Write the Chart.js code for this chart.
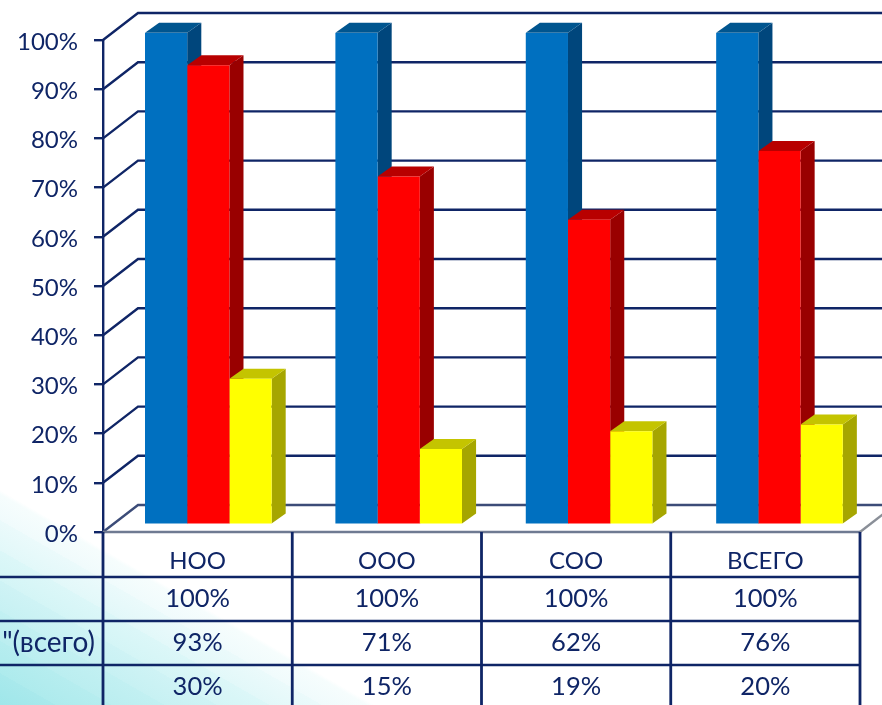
<!DOCTYPE html>
<html>
<head>
<meta charset="utf-8">
<title>Chart</title>
<script src="https://cdn.jsdelivr.net/npm/chart.js@4/dist/chart.umd.min.js"></script>
<style>
  html, body { margin: 0; padding: 0; width: 882px; height: 705px; overflow: hidden; background: #fff; }
  #bg { position: absolute; left: 0; top: 0; width: 882px; height: 705px; }
  #wrap { position: absolute; left: 0; top: 0; width: 882px; height: 705px; }
</style>
</head>
<body>
<svg id="bg" viewBox="0 0 882 705">
  <defs>
    <linearGradient id="fade" gradientUnits="userSpaceOnUse" x1="0" y1="490" x2="-93" y2="652">
      <stop offset="0" stop-color="#ffffff"/>
      <stop offset="0.02" stop-color="#f6fdfd"/>
      <stop offset="0.14" stop-color="#f0fbfc"/>
      <stop offset="0.14" stop-color="#ebfafb"/>
      <stop offset="0.28" stop-color="#e2f8f9"/>
      <stop offset="0.28" stop-color="#dcf7f8"/>
      <stop offset="0.42" stop-color="#d4f5f6"/>
      <stop offset="0.42" stop-color="#cff3f5"/>
      <stop offset="0.56" stop-color="#c7f1f3"/>
      <stop offset="0.56" stop-color="#c2f0f2"/>
      <stop offset="0.70" stop-color="#bbeef0"/>
      <stop offset="0.70" stop-color="#b6edef"/>
      <stop offset="0.85" stop-color="#aeebed"/>
      <stop offset="0.85" stop-color="#a9e9ec"/>
      <stop offset="1" stop-color="#9fe7ea"/>
    </linearGradient>
  </defs>
  <polygon points="0,490 375,705 0,705" fill="url(#fade)"/>
</svg>
<div id="wrap"><canvas id="chart" width="882" height="705"></canvas></div>
<script>
const categories = ['НОО', 'ООО', 'СОО', 'ВСЕГО'];
const seriesBlue = [100, 100, 100, 100];
const seriesRed = [93.4, 70.8, 62, 76];
const seriesYellow = [29.7, 15.4, 19, 20.4];
const tableBlue = ['100%', '100%', '100%', '100%'];
const tableRed = ['93%', '71%', '62%', '76%'];
const tableYellow = ['30%', '15%', '19%', '20%'];
const rowLabels = ['', '"(всего)', ''];
const yTicks = [0, 10, 20, 30, 40, 50, 60, 70, 80, 90, 100];

const navy = '#0f2566';
const fontName = 'Lato, "Open Sans", sans-serif';
const depthWallX = 35, depthWallY = -27;   // back wall offset
const barScaleX = 1.006, barShiftX = 9.5, barShiftY = -7.2;  // bars stand inside the floor
const barDepthX = 14, barDepthY = -10;
const rowY = [532, 577, 621, 665, 709];

const sideColors = ['#00467c', '#990000', '#a6a600'];
const topColors = ['#00558f', '#b80000', '#c4c400'];

function poly(ctx, pts, fill) {
    ctx.beginPath();
    pts.forEach((p, i) => i ? ctx.lineTo(p[0], p[1]) : ctx.moveTo(p[0], p[1]));
    ctx.closePath();
    ctx.fillStyle = fill;
    ctx.fill();
}

// back wall lines and the floor
const wallPlugin = {
    id: 'wall',
    beforeDatasetsDraw(chart) {
        const { ctx, chartArea: a, scales: { y } } = chart;
        ctx.save();
        ctx.lineWidth = 2.4;
        yTicks.forEach(v => {
            const py = y.getPixelForValue(v);
            ctx.strokeStyle = v === 0 ? '#3c4c78' : navy;
            ctx.beginPath();
            ctx.moveTo(a.left, py);
            ctx.lineTo(a.left + depthWallX, py + depthWallY);
            ctx.lineTo(a.right + depthWallX, py + depthWallY);
            ctx.stroke();
        });
        // floor edge on the right
        ctx.strokeStyle = '#8a8f98';
        ctx.beginPath();
        ctx.moveTo(a.right, a.bottom);
        ctx.lineTo(a.right + depthWallX, a.bottom + depthWallY);
        ctx.stroke();
        ctx.restore();
    }
};

// bar sides and tops, the library then paints the fronts over them
const bar3dPlugin = {
    id: 'bar3d',
    beforeDatasetsDraw(chart) {
        const ctx = chart.ctx;
        ctx.save();
        ctx.translate(barShiftX, barShiftY);
        ctx.scale(barScaleX, 1);
        chart.data.datasets.forEach((ds, d) => {
            chart.getDatasetMeta(d).data.forEach(bar => {
                const l = bar.x - bar.width / 2, r = bar.x + bar.width / 2;
                poly(ctx, [[r, bar.y], [r + barDepthX, bar.y + barDepthY], [r + barDepthX, bar.base + barDepthY], [r, bar.base]], sideColors[d]);
                poly(ctx, [[l, bar.y], [l + barDepthX, bar.y + barDepthY], [r + barDepthX, bar.y + barDepthY], [r, bar.y]], topColors[d]);
            });
        });
        ctx.restore();
        ctx.save();
        ctx.translate(barShiftX, barShiftY);
        ctx.scale(barScaleX, 1);
    },
    afterDatasetsDraw(chart) {
        chart.ctx.restore();
    }
};

// data table under the plot
const tablePlugin = {
    id: 'dataTable',
    afterDraw(chart) {
        const { ctx, chartArea: a, scales: { x } } = chart;
        ctx.save();
        ctx.strokeStyle = '#6f7a92';
        ctx.lineWidth = 2.4;
        ctx.beginPath();
        ctx.moveTo(a.left, rowY[0]);
        ctx.lineTo(a.right, rowY[0]);
        ctx.stroke();

        ctx.strokeStyle = navy;
        rowY.slice(1).forEach(py => {
            ctx.beginPath();
            ctx.moveTo(0, py);
            ctx.lineTo(a.right, py);
            ctx.stroke();
        });
        ctx.lineWidth = 2.8;
        const step = (a.right - a.left) / categories.length;
        for (let i = 0; i <= categories.length; i++) {
            ctx.beginPath();
            ctx.moveTo(a.left + i * step, rowY[0]);
            ctx.lineTo(a.left + i * step, 705);
            ctx.stroke();
        }
        ctx.fillStyle = navy;
        ctx.font = '25.5px ' + fontName;
        ctx.textBaseline = 'middle';
        ctx.textAlign = 'center';
        [tableBlue, tableRed, tableYellow].forEach((row, r) => {
            row.forEach((txt, i) => {
                ctx.fillText(txt, x.getPixelForTick(i), (rowY[r + 1] + rowY[r + 2]) / 2);
            });
        });
        ctx.textAlign = 'right';
        ctx.font = '28px ' + fontName;
        rowLabels.forEach((txt, r) => {
            ctx.fillText(txt, 95, (rowY[r + 1] + rowY[r + 2]) / 2);
        });
        ctx.restore();
    }
};

new Chart(document.getElementById('chart'), {
    type: 'bar',
    data: {
        labels: categories,
        datasets: [
            { label: 'Ряд 1', data: seriesBlue, backgroundColor: '#0070c0' },
            { label: 'Ряд 2', data: seriesRed, backgroundColor: '#ff0000' },
            { label: 'Ряд 3', data: seriesYellow, backgroundColor: '#ffff00' }
        ]
    },
    options: {
        responsive: false,
        animation: false,
        devicePixelRatio: 1,
        layout: { padding: { top: 40, right: 22, left: 0, bottom: 0 } },
        datasets: { bar: { barPercentage: 1, categoryPercentage: 0.665 } },
        plugins: { legend: { display: false }, tooltip: { enabled: false } },
        scales: {
            x: {
                afterFit(scale) { scale.height = 173; },
                grid: { display: false },
                border: { display: false },
                ticks: { color: navy, font: { family: fontName, size: 24 }, padding: 7, maxRotation: 0 }
            },
            y: {
                min: 0,
                max: 100,
                afterFit(scale) { scale.width = 103; },
                grid: { drawOnChartArea: false, drawTicks: true, tickLength: 9, color: navy, lineWidth: 2.4 },
                border: { display: true, color: navy, width: 2.4 },
                ticks: {
                    stepSize: 10,
                    color: navy,
                    padding: 16,
                    labelOffset: 2,
                    font: { family: fontName, size: 24 },
                    callback: v => v + '%'
                }
            }
        }
    },
    plugins: [wallPlugin, bar3dPlugin, tablePlugin]
});
</script>
</body>
</html>
